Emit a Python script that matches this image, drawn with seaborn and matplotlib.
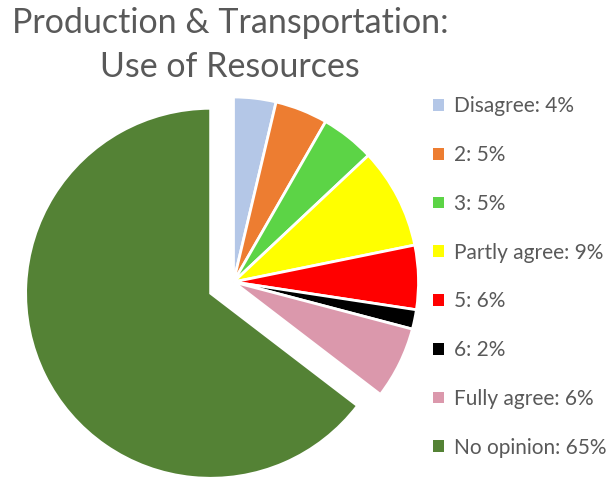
import matplotlib.pyplot as plt
import seaborn as sns

sns.set_theme(style="white")
plt.rcParams["font.family"] = ["Lato", "DejaVu Sans"]

# data (percent of responses)
categories = ["Disagree", "2", "3", "Partly agree", "5", "6", "Fully agree", "No opinion"]
shares = [3.7, 4.6, 4.7, 8.8, 5.6, 1.7, 6.3, 64.6]
colors = ["#B4C7E7", "#ED7D31", "#5CD446", "#FFFF00", "#FF0000", "#000000", "#DB98AC", "#548235"]
explode = [0, 0, 0, 0, 0, 0, 0, 25.5]  # axes are in pixel units, so this is the pull-out distance

text_col = "#595959"

fig = plt.figure(figsize=(6.12, 4.78), dpi=100)
ax = fig.add_axes([0, 0, 1, 1])

wedges, _ = ax.pie(
    shares,
    colors=colors,
    explode=explode,
    startangle=90,
    counterclock=False,
    center=(233.5, 196),
    radius=185,
    wedgeprops=dict(edgecolor="white", linewidth=2),
    frame=True,
)
ax.set_xlim(0, 612)
ax.set_ylim(0, 478)
ax.set_aspect("equal")
ax.axis("off")

labels = [f"{c}: {v:.0f}%" for c, v in zip(categories, shares)]
leg = ax.legend(
    wedges, labels,
    loc="upper left",
    bbox_to_anchor=(425 / 612, 1 - 88 / 478),
    frameon=False,
    fontsize=15,
    handlelength=0.5,
    handleheight=0.5,
    handletextpad=0.5,
    labelspacing=1.38,
    borderaxespad=0,
)
for t in leg.get_texts():
    t.set_color(text_col)
for h in leg.legend_handles:
    h.set_edgecolor("none")

# title, two centred lines
fig.text(230 / 612, 1 - 33 / 478, "Production & Transportation:",
         ha="center", va="baseline", fontsize=24.5, color=text_col)
fig.text(230 / 612, 1 - 77 / 478, "Use of Resources",
         ha="center", va="baseline", fontsize=24.5, color=text_col)

fig.savefig("out.png", dpi=100)
